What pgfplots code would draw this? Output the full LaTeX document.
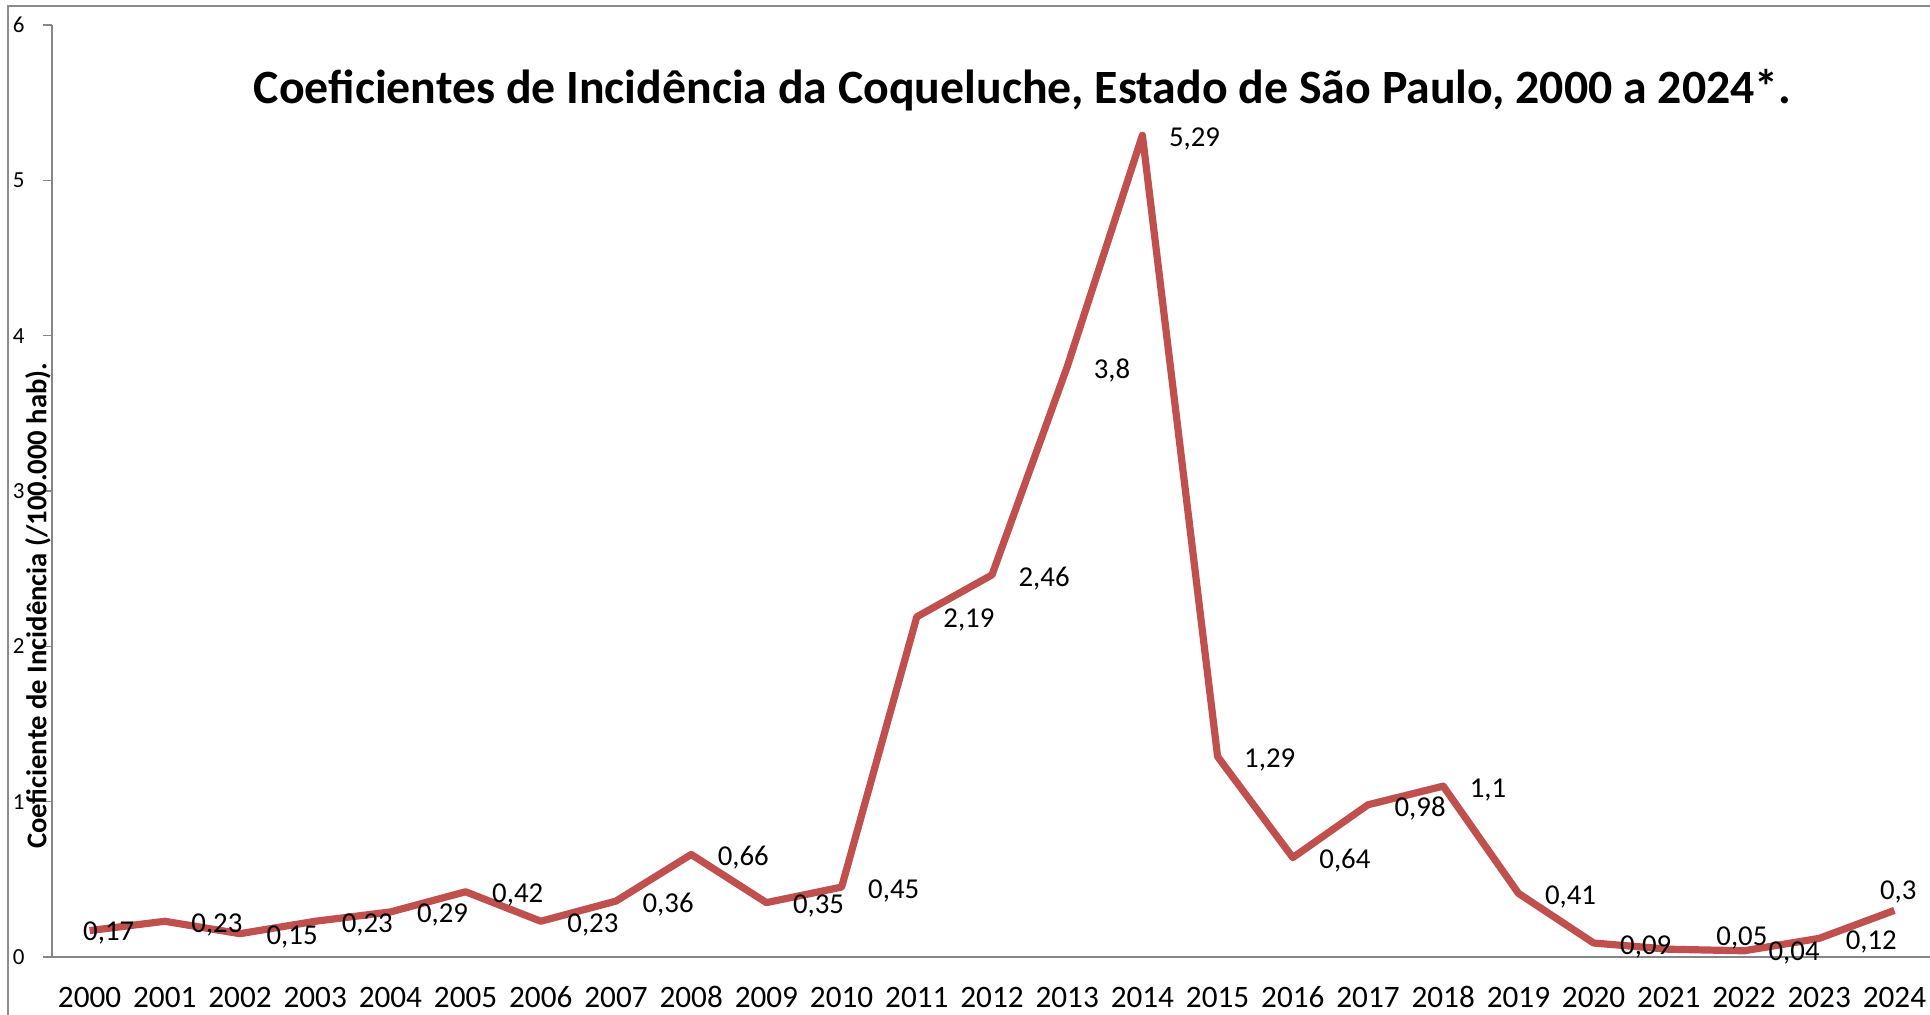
\documentclass[border=0pt]{standalone}
\usepackage{pgfplots}
\usepackage{pgfplotstable}
\pgfplotsset{compat=1.18}
\usepackage{fontspec}
\setmainfont{Carlito}
\definecolor{linered}{RGB}{192,80,77}
\definecolor{axgray}{RGB}{134,134,134}
\definecolor{framegray}{RGB}{140,140,140}

\pgfplotstableread{
x y dx dy
0 0.17 -5 -1
1 0.23 11.5 -1.75
2 0.15 11.5 -1.75
3 0.23 11.5 -1.75
4 0.29 11.5 -1.75
5 0.42 11.5 -1.75
6 0.23 11.5 -1.75
7 0.36 11.5 -1.75
8 0.66 11.5 -1.75
9 0.35 11.5 -1.75
10 0.45 11.5 -1.75
11 2.19 11.5 -1.75
12 2.46 11.5 -1.75
13 3.8 11.5 -1.75
14 5.29 11.5 -1.75
15 1.29 11.5 -1.75
16 0.64 11.5 -1.75
17 0.98 11.5 -1.75
18 1.1 11.5 -1.75
19 0.41 11.5 -1.75
20 0.09 11.5 -1.75
21 0.05 22 5.85
22 0.04 10.5 -1
23 0.12 11.5 -1.75
24 0.3 -9 9.35
}\datatable

\begin{document}
\begin{tikzpicture}
\useasboundingbox (0,0) rectangle (965pt,507.5pt);
\draw[framegray, line width=0.75pt] (4pt,-10pt) -- (4pt,504.5pt) -- (980pt,504.5pt);
\begin{axis}[
  at={(26pt,29pt)}, anchor=south west,
  scale only axis, width=940pt, height=466pt,
  xmin=-0.5, xmax=24.5, ymin=0, ymax=6,
  clip=false,
  axis x line*=bottom, axis y line*=left,
  x axis line style={-}, y axis line style={-},
  axis line style={axgray, line width=0.75pt},
  tick align=outside,
  xtick={0,...,24},
  xticklabels={2000,2001,2002,2003,2004,2005,2006,2007,2008,2009,2010,2011,2012,2013,2014,2015,2016,2017,2018,2019,2020,2021,2022,2023,2024},
  xtick style={draw=none},
  minor xtick={-0.5,0.5,...,24.5},
  minor tick length=5pt,
  minor x tick style={axgray, line width=0.75pt},
  ytick={0,1,2,3,4,5,6},
  major tick length=4.5pt,
  y tick style={axgray, line width=0.75pt},
  /pgf/number format/assume math mode=true,
  /pgf/number format/use comma,
  /pgf/number format/fixed,
  /pgf/number format/precision=2,
  yticklabel style={font=\fontsize{11.5}{14}\selectfont, anchor=east, inner sep=0pt, xshift=-9pt},
  xticklabel style={font=\fontsize{15.6}{19}\selectfont, anchor=base, inner sep=0pt, yshift=-21pt},
  title={Coeficientes de Incidência da Coqueluche, Estado de São Paulo, 2000 a 2024*.},
  title style={font=\fontsize{23.9}{28}\selectfont\bfseries, at={(axis description cs:0.5162,0.9174)}, anchor=center, inner sep=0pt},
  ylabel={Coeficiente de Incidência (/100.000 hab).},
  ylabel style={font=\fontsize{14.3}{17}\selectfont\bfseries, at={(axis description cs:-0.00745,0.3766)}, anchor=center, rotate=0, inner sep=0pt},
]
\addplot[linered, line width=3.6pt, line join=round,
  point meta=y,
  nodes near coords={\pgfmathprintnumber{\pgfplotspointmeta}},
  visualization depends on={\thisrow{dx} \as \labdx},
  visualization depends on={\thisrow{dy} \as \labdy},
  every node near coord/.append style={anchor=west, inner sep=0pt, xshift=\labdx pt, yshift=\labdy pt, text=black, font=\fontsize{14.4}{17}\selectfont},
] table[x=x, y=y] {\datatable};
\end{axis}
\end{tikzpicture}
\end{document}
